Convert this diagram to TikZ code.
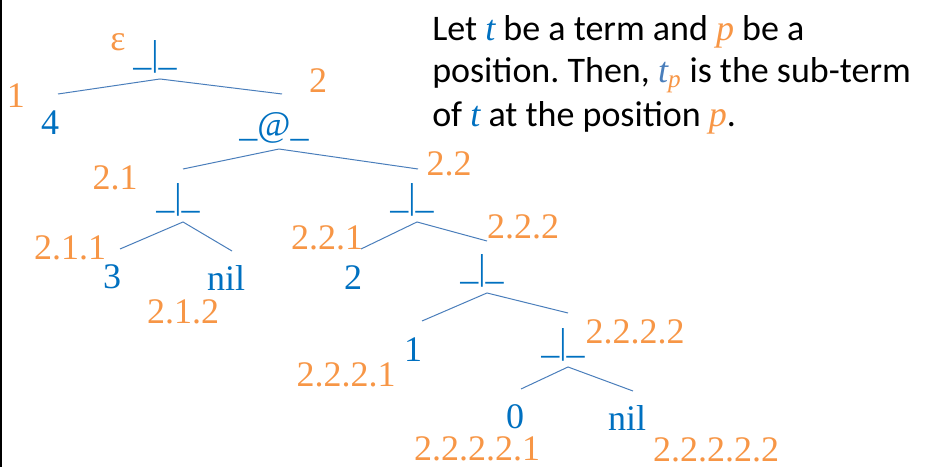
\documentclass[tikz,border=0pt]{standalone}
\usepackage{fontspec}
\setmainfont{Carlito}
\newfontfamily\tnrfont{Liberation Serif}
\usepackage{tikz}
\usetikzlibrary{positioning}
\definecolor{termblue}{HTML}{0070C0}
\definecolor{posorange}{HTML}{F79646}
\definecolor{edgeblue}{HTML}{4A7EBB}
\newcommand{\tvar}[1]{{\tnrfont\itshape\color{termblue}#1}}
\newcommand{\pvar}[1]{{\tnrfont\itshape\color{posorange}#1}}
\frenchspacing

\begin{document}
\begin{tikzpicture}[x=.75pt,y=-.75pt,
  sym/.style={font=\tnrfont\fontsize{27}{27}\selectfont,text=termblue,inner sep=0pt},
  poslabel/.style={font=\tnrfont\fontsize{27}{27}\selectfont,text=posorange,inner sep=0pt},
  edge/.style={draw=edgeblue,line width=.75pt},
  apex/.style={xshift=3.75pt,yshift=-4pt},
  note/.style={font=\fontsize{27}{32.25}\selectfont,align=left,inner sep=0pt}]
\useasboundingbox (0,0) rectangle (931,467);
\draw[line width=1.5pt] (1,0) -- (1,467);
% the term tree
\node[poslabel] (eps) at (118,42) {ε};
\node[sym] (root) at (155,57) {\_|\_};
\node[poslabel] (p1) at (16,96) {1};
\node[sym] (four) at (50,123) {4};
\node[poslabel] (p2) at (318,81) {2};
\node[sym] (app) at (274,128) {\_@\_};
\node[poslabel] (p21) at (115,178) {2.1};
\node[poslabel] (p22) at (449,164) {2.2};
\node[sym] (c21) at (178,200) {\_|\_};
\node[poslabel] (p211) at (70,248) {2.1.1};
\node[sym] (three) at (112,277) {3};
\node[sym] (nilA) at (226,278) {nil};
\node[poslabel] (p212) at (183,312) {2.1.2};
\node[sym] (c22) at (412,200) {\_|\_};
\node[poslabel] (p221) at (327,238) {2.2.1};
\node[sym] (two) at (353,278) {2};
\node[poslabel] (p222) at (523,227) {2.2.2};
\node[sym] (c222) at (482,271) {\_|\_};
\node[sym] (one) at (413,350) {1};
\node[poslabel] (p2221) at (346,375) {2.2.2.1};
\node[poslabel] (p2222) at (635,332) {2.2.2.2};
\node[sym] (c2222) at (563,345) {\_|\_};
\node[sym] (zero) at (515,417) {0};
\node[sym] (nilB) at (627,418) {nil};
\node[poslabel] (p22221) at (477,449) {2.2.2.2.1};
\node[poslabel] (p22222) at (716,450) {2.2.2.2.2};
% free ends of the branches
\coordinate (fourtop) at (58,94);
\coordinate (apptop) at (282,94);
\coordinate (c21top) at (183,169);
\coordinate (c22top) at (418,169);
\coordinate (threetop) at (120,249);
\coordinate (nilAtop) at (232,251);
\coordinate (twotop) at (361,249);
\coordinate (c222top) at (487,241);
\coordinate (onetop) at (422,321);
\coordinate (c2222top) at (568,313);
\coordinate (zerotop) at (521,389);
\coordinate (nilBtop) at (633,391);
\draw[edge] (fourtop) -- ([apex]root.south) -- (apptop);
\draw[edge] (c21top) -- ([apex]app.south) -- (c22top);
\draw[edge] (threetop) -- ([apex]c21.south) -- (nilAtop);
\draw[edge] (twotop) -- ([apex]c22.south) -- (c222top);
\draw[edge] (onetop) -- ([apex]c222.south) -- (c2222top);
\draw[edge] (zerotop) -- ([apex]c2222.south) -- (nilBtop);
% definition
\node[note,anchor=base west] (def) at (432,126)
  {Let \tvar{t} be a term and \pvar{p} be a\\
   position. Then, {\tnrfont\itshape\color{edgeblue}t}\textsubscript{\pvar{p}} is the sub-term\\
   of \tvar{t} at the position \pvar{p}.};
\end{tikzpicture}
\end{document}
